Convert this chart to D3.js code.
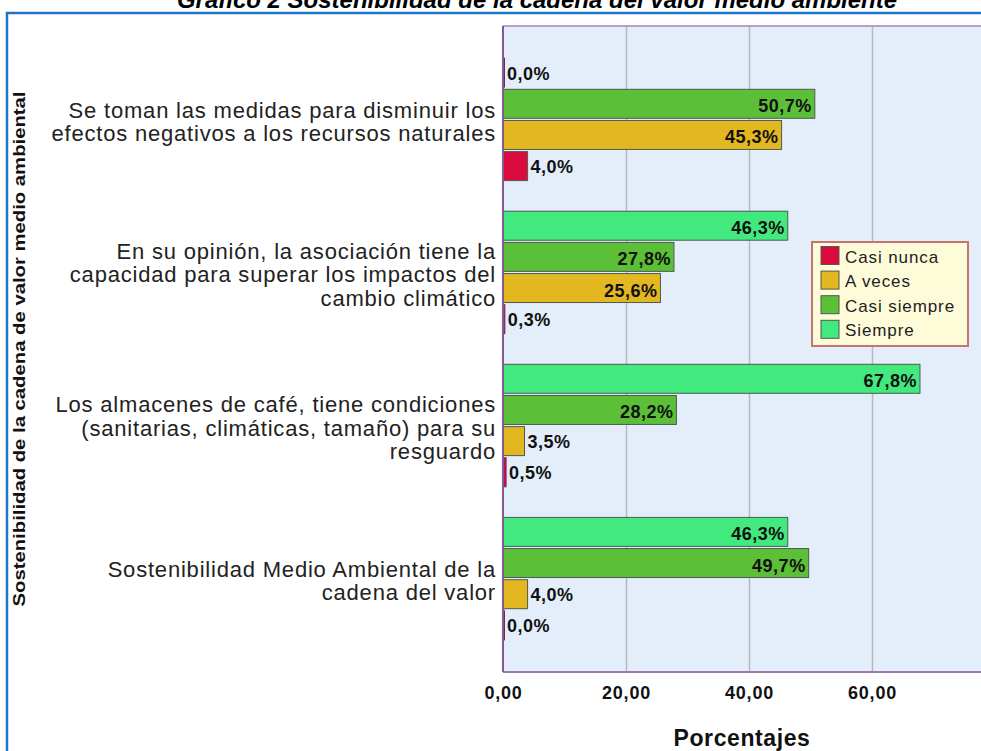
<!DOCTYPE html>
<html>
<head>
<meta charset="utf-8">
<script src="https://cdn.jsdelivr.net/npm/d3@7"></script>
<style>
  body { margin: 0; background: #fff; }
  svg { display: block; font-family: "Liberation Sans", Arial, sans-serif; }
</style>
</head>
<body>
<script>
'use strict';

// datos
const categorias = [
    ['Se toman las medidas para disminuir los', 'efectos negativos a los recursos naturales'],
    ['En su opinión, la asociación tiene la', 'capacidad para superar los impactos del', 'cambio climático'],
    ['Los almacenes de café, tiene condiciones', '(sanitarias, climáticas, tamaño) para su', 'resguardo'],
    ['Sostenibilidad Medio Ambiental de la', 'cadena del valor']
]
const series = ['Siempre', 'Casi siempre', 'A veces', 'Casi nunca']
const siempre = [0.0, 46.3, 67.8, 46.3]
const casiSiempre = [50.7, 27.8, 28.2, 49.7]
const aVeces = [45.3, 25.6, 3.5, 4.0]
const casiNunca = [4.0, 0.3, 0.5, 0.0]
const ticksX = [0, 20, 40, 60]
const ordenLeyenda = ['Casi nunca', 'A veces', 'Casi siempre', 'Siempre']

const colores = {
    'Casi nunca': '#db0c3d',
    'A veces': '#e3b71f',
    'Casi siempre': '#5cbf38',
    'Siempre': '#42e97e'
}

const valores = {
    'Siempre': siempre,
    'Casi siempre': casiSiempre,
    'A veces': aVeces,
    'Casi nunca': casiNunca
}

const largura = 981, altura = 751
const area = {left: 503, right: 995, top: 26, bottom: 672}

const svg = d3.select('body').append('svg')
    .attr('width', largura)
    .attr('height', altura)

// titulo (cortado arriba)
svg.append('text')
    .attr('x', 537).attr('y', 8)
    .attr('text-anchor', 'middle')
    .style('font-size', '24px')
    .style('font-weight', 'bold')
    .style('font-style', 'italic')
    .text('Gráfico 2 Sostenibilidad de la cadena del valor medio ambiente')

// marco azul
svg.append('path')
    .attr('d', `M7,${altura} V13 H${largura}`)
    .attr('fill', 'none')
    .attr('stroke', '#1f74c4')
    .attr('stroke-width', 2.5)

const escalaX = d3.scaleLinear()
    .domain([0, 80])
    .range([area.left, area.right])

const escalaY = d3.scaleBand()
    .domain(d3.range(categorias.length))
    .range([area.top, area.bottom])
    .paddingInner(0.2)
    .paddingOuter(0.21)

const escalaSerie = d3.scaleBand()
    .domain(series)
    .range([0, escalaY.bandwidth()])
    .paddingInner(0.07)

// fondo del area
svg.append('rect')
    .attr('x', area.left).attr('y', area.top)
    .attr('width', area.right - area.left)
    .attr('height', area.bottom - area.top)
    .attr('fill', '#e3eefa')

// rejilla
svg.append('g')
    .attr('transform', `translate(0, ${area.bottom})`)
    .call(d3.axisBottom(escalaX).tickValues(ticksX.slice(1)).tickSize(-(area.bottom - area.top)).tickFormat(''))
    .call(g => g.select('.domain').remove())
    .call(g => g.selectAll('line').attr('stroke', '#b9b9bd').attr('stroke-width', 1.5))

// borde del area
svg.append('line')
    .attr('x1', area.left).attr('x2', area.right)
    .attr('y1', area.top).attr('y2', area.top)
    .attr('stroke', '#b79fcb').attr('stroke-width', 2)
svg.append('line')
    .attr('x1', area.left).attr('x2', area.right)
    .attr('y1', area.bottom).attr('y2', area.bottom)
    .attr('stroke', '#9a78b0').attr('stroke-width', 2)

// barras
const fmt = v => v.toFixed(1).replace('.', ',') + '%'
categorias.forEach((cat, i) => {
    const g = svg.append('g').attr('transform', `translate(0, ${escalaY(i)})`)
    series.forEach(s => {
        const v = valores[s][i]
        const y = escalaSerie(s)
        const h = escalaSerie.bandwidth()
        const w = escalaX(v) - escalaX(0)
        g.append('rect')
            .attr('x', escalaX(0))
            .attr('y', y)
            .attr('width', Math.max(w, 1.5))
            .attr('height', h)
            .attr('fill', v === 0 ? '#5a2a6a' : colores[s])
            .attr('stroke', v < 1 ? '#6b2a5a' : '#4d5a50')
            .attr('stroke-width', 1)
        const dentro = w > 60
        g.append('text')
            .attr('x', dentro ? escalaX(v) - 3 : Math.max(escalaX(v), escalaX(0) + 1) + 3)
            .attr('y', y + h / 2 + (dentro ? 8.5 : 7))
            .attr('text-anchor', dentro ? 'end' : 'start')
            .style('font-weight', 'bold')
            .style('font-size', '18px')
            .style('letter-spacing', '0.5px')
            .attr('fill', '#111')
            .text(fmt(v))
    })
})

// eje izquierdo
svg.append('line')
    .attr('x1', area.left).attr('x2', area.left)
    .attr('y1', area.top).attr('y2', area.bottom)
    .attr('stroke', '#7f5a96').attr('stroke-width', 2)

// etiquetas de categorias
categorias.forEach((lineas, i) => {
    const centro = escalaY(i) + escalaY.bandwidth() / 2 + 3
    const lh = 23.5
    const t = svg.append('text')
        .attr('text-anchor', 'end')
        .style('font-size', '22px')
        .style('letter-spacing', '0.8px')
        .attr('fill', '#222')
    lineas.forEach((l, k) => {
        t.append('tspan')
            .attr('x', 496)
            .attr('y', centro + (k - (lineas.length - 1) / 2) * lh + 7)
            .text(l)
    })
})

// eje X
svg.append('g')
    .attr('transform', `translate(0, ${area.bottom})`)
    .call(d3.axisBottom(escalaX).tickValues(ticksX).tickSize(0).tickPadding(0)
        .tickFormat(d => d.toFixed(2).replace('.', ',')))
    .call(g => g.select('.domain').remove())
    .call(g => g.selectAll('text')
        .attr('y', 27).attr('dy', 0)
        .attr('fill', '#111')
        .style('font-family', '"Liberation Sans", Arial, sans-serif')
        .style('font-weight', 'bold')
        .style('font-size', '18px')
        .style('letter-spacing', '0.8px'))

svg.append('text')
    .attr('x', 742).attr('y', 746)
    .attr('text-anchor', 'middle')
    .style('font-size', '23px')
    .style('font-weight', 'bold')
    .style('letter-spacing', '0.6px')
    .attr('fill', '#111')
    .text('Porcentajes')

// titulo eje Y
svg.append('text')
    .attr('transform', `translate(25, ${(area.top + area.bottom) / 2}) rotate(-90)`)
    .attr('text-anchor', 'middle')
    .attr('textLength', 515)
    .attr('lengthAdjust', 'spacingAndGlyphs')
    .style('font-size', '17px')
    .style('font-weight', 'bold')
    .attr('fill', '#111')
    .text('Sostenibilidad de la cadena de valor medio ambiental')

// leyenda
const ley = svg.append('g').attr('transform', 'translate(812, 242)')
ley.append('rect')
    .attr('width', 156).attr('height', 104)
    .attr('fill', '#fefbd9')
    .attr('stroke', '#c77372').attr('stroke-width', 2)
ordenLeyenda.forEach((s, k) => {
    ley.append('rect')
        .attr('x', 9).attr('y', 4.5 + k * 24.6)
        .attr('width', 18).attr('height', 18)
        .attr('fill', colores[s])
        .attr('stroke', '#555').attr('stroke-width', 1)
    ley.append('text')
        .attr('x', 33).attr('y', 4.5 + k * 24.6 + 16)
        .style('font-size', '17px')
        .style('letter-spacing', '0.9px')
        .attr('fill', '#222')
        .text(s)
})
</script>
</body>
</html>
